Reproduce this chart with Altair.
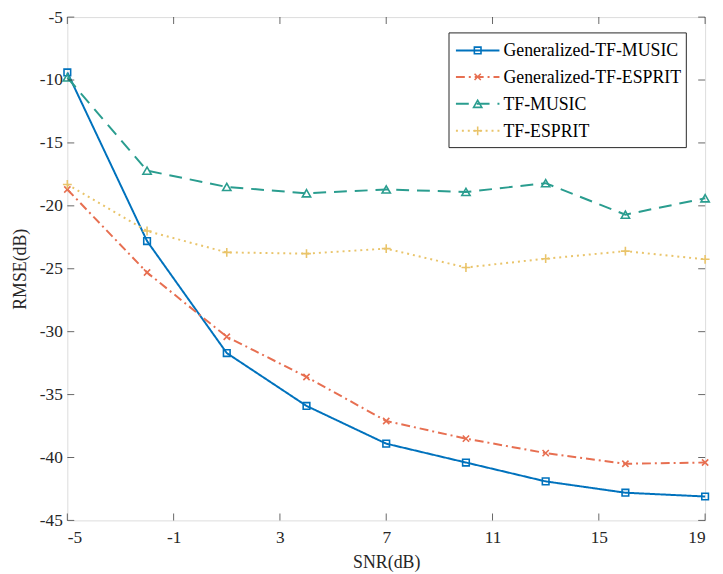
import altair as alt
import pandas as pd

snr = [-5, -2, 1, 4, 7, 10, 13, 16, 19]
gen_tf_music = [-9.4, -22.8, -31.7, -35.9, -38.9, -40.4, -41.9, -42.8, -43.1]
gen_tf_esprit = [-18.7, -25.3, -30.4, -33.6, -37.1, -38.5, -39.65, -40.5, -40.4]
tf_music = [-9.8, -17.2, -18.5, -19.0, -18.7, -18.9, -18.2, -20.7, -19.4]
tf_esprit = [-18.3, -22.0, -23.7, -23.8, -23.4, -24.9, -24.2, -23.6, -24.25]

names = ["Generalized-TF-MUSIC", "Generalized-TF-ESPRIT", "TF-MUSIC", "TF-ESPRIT"]
values = [gen_tf_music, gen_tf_esprit, tf_music, tf_esprit]
colors = ["#0072BD", "#E76F51", "#2A9D8F", "#E9C46A"]
dashes = [[1, 0], [9, 4, 2, 4], [13, 8], [2, 4]]
shapes = ["square", "M-1,-1L1,1M-1,1L1,-1", "triangle-up", "M-1,0L1,0M0,-1L0,1"]
sizes = [45, 40, 70, 80]

x_ticks = [-5, -1, 3, 7, 11, 15, 19]
y_ticks = [-45, -40, -35, -30, -25, -20, -15, -10, -5]

W, H = 645, 509
FONT = "Liberation Serif"
TXT = "#262626"

xs = alt.Scale(domain=[-5, 19], nice=False, zero=False)
ys = alt.Scale(domain=[-45, -5], nice=False, zero=False)

xaxis = alt.Axis(values=x_ticks, title="SNR(dB)", grid=False, ticks=False, domain=False,
                 labelExpr="toString(datum.value)",
                 labelFont=FONT, labelFontSize=17.5, labelColor=TXT, labelPadding=8,
                 titleFont=FONT, titleFontSize=18, titleFontWeight="normal", titleColor=TXT,
                 titlePadding=8)
yaxis = alt.Axis(values=y_ticks, title="RMSE(dB)", grid=False, ticks=False, domain=False,
                 labelExpr="toString(datum.value)",
                 labelFont=FONT, labelFontSize=17.5, labelColor=TXT, labelPadding=5,
                 titleFont=FONT, titleFontSize=18, titleFontWeight="normal", titleColor=TXT,
                 titlePadding=10)


def X(field):
    return alt.X(field, scale=xs, axis=xaxis)


def Y(field):
    return alt.Y(field, scale=ys, axis=yaxis)


layers = []
for i, (nm, vals) in enumerate(zip(names, values)):
    df = pd.DataFrame({"snr": snr, "rmse": vals})
    base = alt.Chart(df)
    line = base.mark_line(color=colors[i], strokeWidth=2, strokeDash=dashes[i]).encode(
        x=X("snr:Q"), y=Y("rmse:Q"))
    pts = base.mark_point(shape=shapes[i], filled=False, color=colors[i], strokeWidth=1.6,
                          size=sizes[i], opacity=1).encode(x=X("snr:Q"), y=Y("rmse:Q"))
    layers += [line, pts]

# inner tick marks (MATLAB box style)
xt = alt.Chart(pd.DataFrame({"t": x_ticks}))
yt = alt.Chart(pd.DataFrame({"t": y_ticks}))
tick_bottom = xt.mark_tick(color=TXT, size=7, thickness=1, orient="vertical").encode(
    x=X("t:Q"), y=alt.value(H - 3.5))
tick_top = xt.mark_tick(color=TXT, size=7, thickness=1, orient="vertical").encode(
    x=X("t:Q"), y=alt.value(3.5))
tick_left = yt.mark_tick(color=TXT, size=7, thickness=1, orient="horizontal").encode(
    y=Y("t:Q"), x=alt.value(3.5))
tick_right = yt.mark_tick(color=TXT, size=7, thickness=1, orient="horizontal").encode(
    y=Y("t:Q"), x=alt.value(W - 3.5))

# legend
one = alt.Chart(pd.DataFrame({"a": [0]}))
leg_box = one.mark_rect(fill="white", stroke=TXT, strokeWidth=1).encode(
    x=alt.value(386), x2=alt.value(626), y=alt.value(16), y2=alt.value(132))
legend_layers = [leg_box]
leg_y = [33.7, 60.5, 87.7, 115]
for i, nm in enumerate(names):
    d = alt.Chart(pd.DataFrame({"name": [nm]}))
    legend_layers.append(d.mark_rule(color=colors[i], strokeWidth=2, strokeDash=dashes[i]).encode(
        x=alt.value(393), x2=alt.value(437), y=alt.value(leg_y[i])))
    legend_layers.append(d.mark_point(shape=shapes[i], filled=False, color=colors[i], strokeWidth=1.6,
                                      size=sizes[i], opacity=1).encode(
        x=alt.value(415), y=alt.value(leg_y[i])))
    legend_layers.append(d.mark_text(align="left", baseline="middle", font=FONT, fontSize=18,
                                     color="black").encode(
        x=alt.value(441), y=alt.value(leg_y[i] + 1), text="name:N"))

chart = alt.layer(*layers, tick_bottom, tick_top, tick_left, tick_right, *legend_layers).properties(
    width=W, height=H,
    autosize=alt.AutoSizeParams(type="none"),
    padding={"left": 60, "top": 6, "right": 10, "bottom": 51},
).configure_view(stroke=TXT, strokeWidth=1).configure(background="white")

chart.save("out.html", embed_options={"renderer": "svg", "actions": False})
